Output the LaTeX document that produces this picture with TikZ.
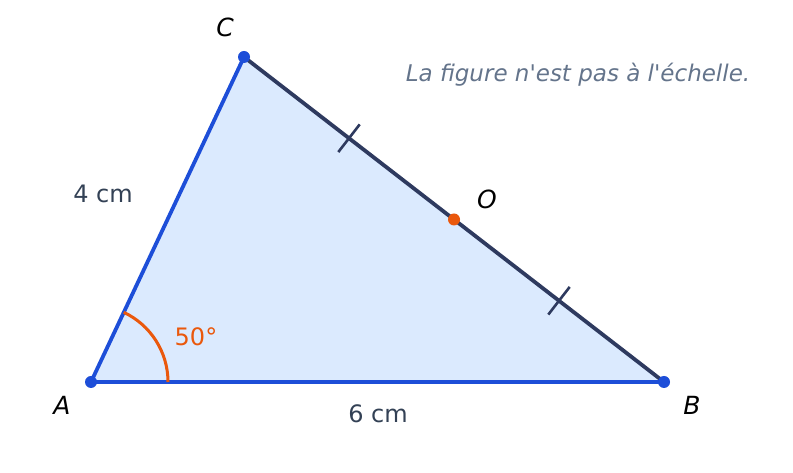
\documentclass[tikz,border=0pt]{standalone}
\usepackage{fontspec}
\setmainfont{DejaVu Sans}
\newfontfamily\notefont{DejaVu Sans}
\usetikzlibrary{calc}
\definecolor{sideblue}{HTML}{1D4ED8}
\definecolor{sidedark}{HTML}{2E3A5F}
\definecolor{fillblue}{HTML}{DBEAFE}
\definecolor{angorange}{HTML}{EA580C}
\definecolor{lbltext}{HTML}{334155}
\definecolor{notegray}{HTML}{64748B}
\begin{document}
\begin{tikzpicture}[x=1pt,y=1pt,
  pt/.style={circle,fill=sideblue,inner sep=0pt,minimum size=12pt},
  ptlabel/.style={font=\fontsize{25}{29}\selectfont\itshape,text=black},
  measure/.style={font=\fontsize{24}{28}\selectfont,text=lbltext},
  side/.style={line width=3.8pt,line cap=round},
  tickmark/.style={line width=2.6pt,draw=sidedark}]
\useasboundingbox (0,0) rectangle (793,473);
\coordinate (A) at (91,91);
\coordinate (B) at (664,91);
\coordinate (C) at (244,416);
\coordinate (O) at (454,253.5);
\fill[fillblue] (A) -- (B) -- (C) -- cycle;
\draw[side,draw=sideblue] (A) -- (B);
\draw[side,draw=sideblue] (A) -- (C);
\draw[side,draw=sidedark] (C) -- (B);
% tick marks
\coordinate (T1) at ($(C)!0.25!(B)$);
\coordinate (T2) at ($(C)!0.75!(B)$);
\draw[tickmark] ($(T1)!17.5pt!90:(B)$) -- ($(T1)!17.5pt!-90:(B)$);
\draw[tickmark] ($(T2)!17.5pt!90:(B)$) -- ($(T2)!17.5pt!-90:(B)$);
% angle arc
\draw[line width=3pt,draw=angorange] ($(A)+(77,0)$) arc[start angle=0,end angle=64.8,radius=77];
% points
\node[pt] (pA) at (A) {};
\node[pt] (pB) at (B) {};
\node[pt] (pC) at (C) {};
\node[circle,fill=angorange,inner sep=0pt,minimum size=12pt] (pO) at (O) {};
% labels
\node[ptlabel] (lA) at (62,68) {A};
\node[ptlabel] (lB) at (692,68) {B};
\node[ptlabel] (lC) at (225,446) {C};
\node[ptlabel] (lO) at (487,274) {O};
\node[measure] (l4) at (103,279) {4 cm};
\node[measure] (l6) at (378,59) {6 cm};
\node[measure,text=angorange] (l50) at (196,136) {50°};
\node[font=\notefont\fontsize{23}{27}\selectfont\itshape,text=notegray] (note) at (578,398) {La figure n'est pas à l'échelle.};
\end{tikzpicture}
\end{document}
